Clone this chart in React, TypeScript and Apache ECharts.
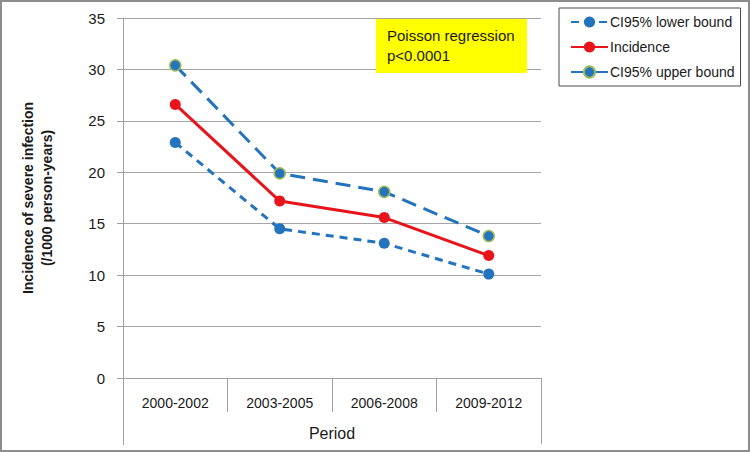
import React, { useEffect, useRef } from "react";
import * as echarts from "echarts";

const categories = ["2000-2002", "2003-2005", "2006-2008", "2009-2012"];
const lowerBound = [22.9, 14.5, 13.1, 10.1];
const incidence = [26.6, 17.2, 15.6, 11.9];
const upperBound = [30.4, 19.9, 18.1, 13.8];
const yTicks = [0, 5, 10, 15, 20, 25, 30, 35];

const BLUE = "#2473bd";
const RED = "#e8141b";
const GRID_L = 123;
const GRID_R = 541;
const GRID_T = 18;
const GRID_B = 378;
const FONT = "'Liberation Sans', Arial, sans-serif";

export default function App() {
  const ref = useRef<HTMLDivElement>(null);
  useEffect(() => {
    if (!ref.current) return;
    const chart = echarts.init(ref.current, undefined, { renderer: "svg" });
    chart.setOption({
      animation: false,
      backgroundColor: "#ffffff",
      grid: {
        left: GRID_L,
        right: 750 - GRID_R,
        top: GRID_T,
        bottom: 452 - GRID_B,
        containLabel: false,
      },
      legend: {
        left: 559,
        top: 8,
        orient: "vertical",
        padding: [7, 6, 7, 11],
        itemGap: 11,
        itemWidth: 37,
        itemHeight: 14,
        borderColor: "#4a4a4a",
        borderWidth: 1,
        textStyle: { fontFamily: FONT, fontSize: 14, color: "#1a1a1a", padding: [0, 0, 0, -3] },
        data: ["CI95% lower bound", "Incidence", "CI95% upper bound"],
      },
      xAxis: {
        type: "category",
        data: categories,
        boundaryGap: true,
        axisLine: { show: true, lineStyle: { color: "#a0a0a0", width: 1 } },
        axisTick: { show: true, interval: 0, length: 34, lineStyle: { color: "#a0a0a0" } },
        axisLabel: { fontFamily: FONT, fontSize: 14, color: "#1a1a1a", margin: 18 },
      },
      yAxis: {
        type: "value",
        min: yTicks[0],
        max: yTicks[yTicks.length - 1],
        interval: 5,
        axisLine: { show: true, lineStyle: { color: "#a0a0a0", width: 1 } },
        axisTick: { show: true, length: 6, lineStyle: { color: "#a0a0a0" } },
        axisLabel: { fontFamily: FONT, fontSize: 15, color: "#1a1a1a", margin: 18 },
        splitLine: { show: true, lineStyle: { color: "#a6a6a6", width: 1 } },
      },
      series: [
        {
          name: "CI95% lower bound",
          type: "line",
          data: lowerBound,
          color: BLUE,
          symbol: "circle",
          symbolSize: 11,
          lineStyle: { color: BLUE, width: 3, type: [8, 6] },
          itemStyle: { color: BLUE },
        },
        {
          name: "CI95% upper bound",
          type: "line",
          data: upperBound,
          color: BLUE,
          symbol: "circle",
          symbolSize: 11,
          lineStyle: { color: BLUE, width: 3, type: [15, 8] },
          itemStyle: { color: BLUE, borderColor: "#9bbb59", borderWidth: 1.5 },
        },
        {
          name: "Incidence",
          type: "line",
          data: incidence,
          color: RED,
          symbol: "circle",
          symbolSize: 11,
          lineStyle: { color: RED, width: 3 },
          itemStyle: { color: RED },
        },
      ],
      graphic: [
        {
          type: "rect",
          shape: { x: 1, y: 1, width: 748, height: 450 },
          style: { fill: "none", stroke: "#8c8c8c", lineWidth: 2 },
          silent: true,
        },
        {
          type: "line",
          shape: { x1: GRID_L + 0.5, y1: GRID_B, x2: GRID_L + 0.5, y2: 445 },
          style: { stroke: "#a0a0a0", lineWidth: 1 },
        },
        {
          type: "line",
          shape: { x1: GRID_R + 0.5, y1: GRID_B, x2: GRID_R + 0.5, y2: 444 },
          style: { stroke: "#a0a0a0", lineWidth: 1 },
        },
        {
          type: "text",
          x: (GRID_L + GRID_R) / 2,
          y: 433,
          style: {
            text: "Period",
            fontFamily: FONT,
            fontSize: 16,
            fill: "#1a1a1a",
            textAlign: "center",
            textVerticalAlign: "middle",
          },
        },
        {
          type: "text",
          x: 37,
          y: 198,
          rotation: Math.PI / 2,
          style: {
            text: "Incidence of severe infection\n(/1000 person-years)",
            fontFamily: FONT,
            fontSize: 14,
            fontWeight: "bold",
            lineHeight: 19,
            fill: "#1a1a1a",
            textAlign: "center",
            textVerticalAlign: "middle",
          },
        },
        {
          type: "rect",
          z: 10,
          shape: { x: 376, y: 19, width: 151, height: 54 },
          style: { fill: "#ffff00" },
        },
        {
          type: "text",
          z: 11,
          x: 387,
          y: 25,
          style: {
            text: "Poisson regression\np<0.0001",
            fontFamily: FONT,
            fontSize: 15,
            lineHeight: 20,
            fill: "#1a1a1a",
          },
        },
      ],
    });
    return () => chart.dispose();
  }, []);
  return (
    <div
      ref={ref}
      style={{ position: "fixed", left: 0, top: 0, width: 750, height: 452 }}
    />
  );
}
